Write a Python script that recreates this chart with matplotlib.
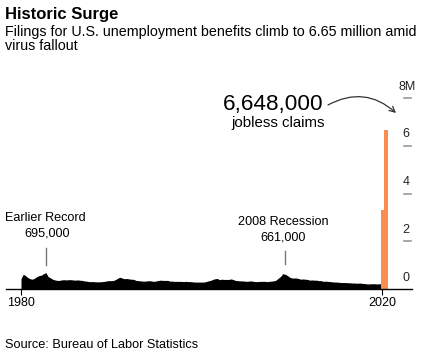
import matplotlib.pyplot as plt
import numpy as np

# weekly initial jobless claims (thousands)
years = np.arange(1980, 2020.01, 0.25)
claims = [430, 620, 560, 480,
          430, 410, 450, 520,
          560, 580, 640, 690,
          520, 470, 410, 380,
          360, 360, 380, 390,
          380, 390, 390, 380,
          370, 380, 370, 360,
          340, 330, 310, 310,
          310, 300, 300, 300,
          310, 320, 340, 350,
          350, 360, 400, 460,
          490, 450, 430, 440,
          420, 410, 400, 360,
          350, 340, 330, 330,
          340, 350, 330, 320,
          340, 360, 370, 360,
          360, 360, 330, 330,
          320, 320, 320, 320,
          310, 320, 310, 310,
          300, 290, 290, 290,
          290, 290, 310, 340,
          360, 400, 430, 440,
          390, 410, 400, 400,
          400, 420, 400, 360,
          350, 340, 340, 330,
          320, 330, 340, 320,
          310, 310, 320, 320,
          320, 310, 320, 330,
          340, 370, 450, 520,
          640, 620, 570, 500,
          460, 460, 460, 440,
          410, 420, 410, 400,
          370, 380, 370, 370,
          350, 350, 320, 330,
          320, 310, 300, 290,
          290, 280, 270, 270,
          270, 260, 260, 250,
          250, 240, 250, 240,
          230, 220, 210, 220,
          220, 220, 210, 220,
          215]
claims = np.array(claims) / 1000.0

# the two virus weeks (millions), at their plotted positions
surge_x = [2020.07, 2020.46]
surge_claims = [3.307, 6.648]

yticks = [0, 2, 4, 6, 8]
ylabels = ['0', '2', '4', '6', '8M']

plt.rcParams['font.family'] = ['Liberation Sans', 'DejaVu Sans']

W, H = 433, 357
fig = plt.figure(figsize=(W / 100, H / 100), dpi=100)

def fx(px):
    return px / W

def fy(py):
    return 1 - py / H

# axes: x 6..412 px, baseline at y=289, 8M at y=98
x0, x1 = 1980 - 15 / 9.025, 1980 + (412 - 21) / 9.025
top_px = 60
ax = fig.add_axes([fx(6), fy(289), fx(412) - fx(6), (289 - top_px) / H])
ax.set_xlim(x0, x1)
ax.set_ylim(0, (289 - top_px) / 23.875)

ax.fill_between(years, 0, claims, color='black', lw=0)
ax.bar(surge_x, surge_claims, width=0.38, color='#f98e4e', lw=0)

for s in ['top', 'left', 'right']:
    ax.spines[s].set_visible(False)
ax.spines['bottom'].set_linewidth(1)
ax.set_yticks([])
ax.set_xticks([1980, 2020])
ax.set_xticklabels(['1980', '2020'], fontsize=9)
ax.tick_params(axis='x', length=4, width=0.8, pad=2)

for v, lab in zip(yticks, ylabels):
    if v > 0:
        ax.axhline(v, xmin=0.980, xmax=0.998, color='#999999', lw=1.2)
    ax.text(0.987 if lab == '8M' else 0.985, v + 0.22, lab,
            transform=ax.get_yaxis_transform(), ha='center', va='bottom',
            fontsize=9, color='#222222')

# callouts
ax.axvline(1982.8, ymin=(289 - 265) / (289 - top_px), ymax=(289 - 248) / (289 - top_px),
           color='#777777', lw=1)
ax.axvline(2009.2, ymin=(289 - 264) / (289 - top_px), ymax=(289 - 251) / (289 - top_px),
           color='#777777', lw=1)

fig.text(fx(5), fy(218), 'Earlier Record', fontsize=9.1, va='center', ha='left')
fig.text(fx(47), fy(233), '695,000', fontsize=9.1, va='center', ha='center')
fig.text(fx(283), fy(222), '2008 Recession', fontsize=9.1, va='center', ha='center')
fig.text(fx(283), fy(237), '661,000', fontsize=9.1, va='center', ha='center')

fig.text(fx(323), fy(104), '6,648,000', fontsize=16.2, va='center', ha='right')
fig.text(fx(325), fy(123), 'jobless claims', fontsize=10.8, va='center', ha='right')

ax.annotate('', xy=(396, H - 113), xycoords='figure pixels',
            xytext=(328, H - 105), textcoords='figure pixels',
            arrowprops=dict(arrowstyle='->', connectionstyle='arc3,rad=-0.35',
                            color='#333333', lw=0.9, shrinkA=0, shrinkB=0))

fig.text(fx(5), fy(14), 'Historic Surge', fontsize=12, fontweight='bold', va='center')
fig.text(fx(5), fy(32), 'Filings for U.S. unemployment benefits climb to 6.65 million amid',
         fontsize=10.3, va='center')
fig.text(fx(5), fy(46), 'virus fallout', fontsize=10.3, va='center')
fig.text(fx(5), fy(345), 'Source: Bureau of Labor Statistics', fontsize=9.2, va='center')

fig.savefig('out.png', dpi=100)
